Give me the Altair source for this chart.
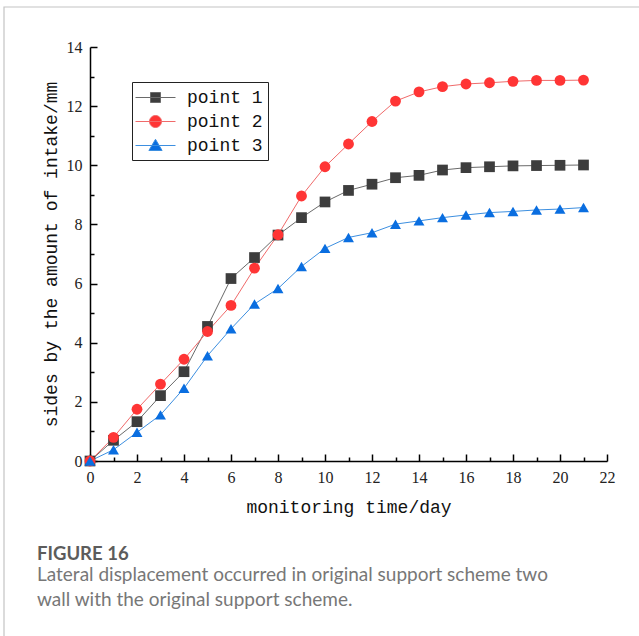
import altair as alt
import pandas as pd

# Monitoring days and lateral displacement (mm) at the three measuring points
days = list(range(22))
point_1 = [0.00, 0.70, 1.33, 2.21, 3.02, 4.55, 6.17, 6.88, 7.64, 8.23, 8.76,
           9.15, 9.36, 9.58, 9.66, 9.84, 9.92, 9.95, 9.98, 9.99, 10.00, 10.01]
point_2 = [0.00, 0.80, 1.75, 2.60, 3.44, 4.38, 5.26, 6.52, 7.65, 8.96, 9.95,
           10.72, 11.48, 12.17, 12.48, 12.66, 12.75, 12.79, 12.84, 12.87, 12.87, 12.88]
point_3 = [0.00, 0.38, 0.97, 1.56, 2.46, 3.56, 4.47, 5.31, 5.83, 6.58, 7.19,
           7.56, 7.72, 8.01, 8.12, 8.23, 8.32, 8.40, 8.44, 8.49, 8.52, 8.57]

series_names = ["point 1", "point 2", "point 3"]
x_ticks_major = list(range(0, 23, 2))
x_ticks_minor = list(range(1, 23, 2))
y_ticks_major = list(range(0, 15, 2))
y_ticks_minor = list(range(1, 15, 2))

rows = []
for name, vals in zip(series_names, [point_1, point_2, point_3]):
    for d, v in zip(days, vals):
        rows.append({"day": d, "value": v, "series": name})
df = pd.DataFrame(rows)

W, H = 517, 414
marker_colors = ["#3d3d3d", "#ff3535", "#0a6ee0"]
line_colors = ["#6a6a6a", "#f06a6a", "#3d8fe0"]
marker_shapes = ["square", "circle", "triangle-up"]
# legend glyphs: a line segment (-2..2) with the marker in the middle
legend_shapes = [
    "M-2,0H2M-0.5,-0.5H0.5V0.5H-0.5Z",
    "M-2,0H2M-0.6,0A0.6,0.6 0 1,1 0.6,0A0.6,0.6 0 1,1 -0.6,0Z",
    "M-2,0H2M0,-0.62L0.66,0.5L-0.66,0.5Z",
]

x_scale = alt.Scale(domain=[0, 22], nice=False, zero=False)
y_scale = alt.Scale(domain=[0, 14], nice=False, zero=False)

label_font = "Liberation Serif"
title_font = "Liberation Mono"

main_x_axis = alt.Axis(values=x_ticks_major, ticks=False, grid=False, labelPadding=8,
                       labelFlush=False, labelOverlap=False,
                       labelFont=label_font, labelFontSize=16, labelColor="#222",
                       domainColor="black", domainWidth=1.5,
                       title="monitoring time/day", titleFont=title_font, titleFontSize=18,
                       titleFontWeight="normal", titleColor="#111", titlePadding=13)
main_y_axis = alt.Axis(values=y_ticks_major, ticks=False, grid=False, labelPadding=8,
                       labelFlush=False, labelOverlap=False,
                       labelFont=label_font, labelFontSize=16, labelColor="#222",
                       domainColor="black", domainWidth=1.5,
                       title="sides by the amount of intake/mm", titleFont=title_font,
                       titleFontSize=18, titleFontWeight="normal", titleColor="#111",
                       titlePadding=6)


def inward_axis(orient, offset, values, size):
    # axis drawn on the opposite side and shifted across the plot so ticks point inward
    return alt.Axis(orient=orient, offset=offset, values=values, labels=False, domain=False,
                    grid=False, ticks=True, tickSize=size, tickWidth=1.5, tickColor="black",
                    title=None)


base = alt.Chart(df)

lines = base.mark_line(strokeWidth=1).encode(
    x=alt.X("day:Q", scale=x_scale, axis=main_x_axis),
    y=alt.Y("value:Q", scale=y_scale, axis=main_y_axis),
    color=alt.Color("series:N", scale=alt.Scale(domain=series_names, range=line_colors),
                    legend=None),
)

points = base.mark_point(filled=True, opacity=1).encode(
    x=alt.X("day:Q", scale=x_scale, axis=inward_axis("top", -H, x_ticks_major, 7)),
    y=alt.Y("value:Q", scale=y_scale, axis=inward_axis("right", -W, y_ticks_major, 7)),
    color=alt.Color("series:N", scale=alt.Scale(domain=series_names, range=marker_colors),
                    legend=None),
    shape=alt.Shape("series:N", scale=alt.Scale(domain=series_names, range=marker_shapes),
                    legend=None),
    size=alt.Size("series:N", scale=alt.Scale(domain=series_names, range=[115, 120, 150]),
                  legend=None),
)

legend_def = alt.Legend(title=None, orient="none", legendX=42, legendY=35,
                        symbolOpacity=1, symbolSize=400, symbolStrokeWidth=1,
                        symbolOffset=8,
                        labelFont=title_font, labelFontSize=18, labelColor="#111",
                        labelOffset=21, rowPadding=4, padding=5,
                        strokeColor="#222", fillColor="white")

legend_layer = base.mark_point(opacity=0, filled=True).encode(
    x=alt.X("day:Q", scale=x_scale, axis=inward_axis("top", -H, x_ticks_minor, 4)),
    y=alt.Y("value:Q", scale=y_scale, axis=inward_axis("right", -W, y_ticks_minor, 4)),
    fill=alt.Fill("series:N", scale=alt.Scale(domain=series_names, range=marker_colors),
                  legend=legend_def),
    stroke=alt.Stroke("series:N", scale=alt.Scale(domain=series_names, range=line_colors),
                      legend=legend_def),
    shape=alt.Shape("series:N", scale=alt.Scale(domain=series_names, range=legend_shapes),
                    legend=legend_def),
)

# light frame around the figure (extends past the lower and right edges)
FRAME_EXTRA = 200
frame = alt.Chart(alt.Data(values=[{}])).mark_rect(
    fill=None, stroke="#c4c4c4", strokeWidth=1.2
).encode(
    x=alt.value(-86), y=alt.value(-40),
    x2=alt.value(W + FRAME_EXTRA), y2=alt.value(H + FRAME_EXTRA)
)

# caption sits below the plot; its position is counted from the frame's lower edge
caption_top = 498
chart = alt.layer(frame, lines, points, legend_layer).resolve_scale(
    color="independent", shape="independent", size="independent",
    fill="independent", stroke="independent"
).resolve_axis(
    x="independent", y="independent"
).properties(
    width=W, height=H,
    autosize=alt.AutoSizeParams(type="none"),
    padding={"left": 90, "top": 47, "right": 32, "bottom": 175},
    title=alt.TitleParams(
        text="FIGURE 16",
        subtitle=["Lateral displacement occurred in original support scheme two",
                  "wall with the original support scheme."],
        orient="bottom", anchor="start", frame="group", dx=-53, offset=0,
        dy=caption_top - (H + FRAME_EXTRA + 1),
        font="Lato", fontSize=18.5, fontWeight="bold", color="#5c5c5c",
        subtitleFont="Lato", subtitleFontSize=19, subtitleColor="#777777",
        subtitleLineHeight=24.5, subtitlePadding=3,
    ),
).configure_view(stroke=None)

chart.save("out.html", embed_options={"renderer": "svg", "actions": False})
